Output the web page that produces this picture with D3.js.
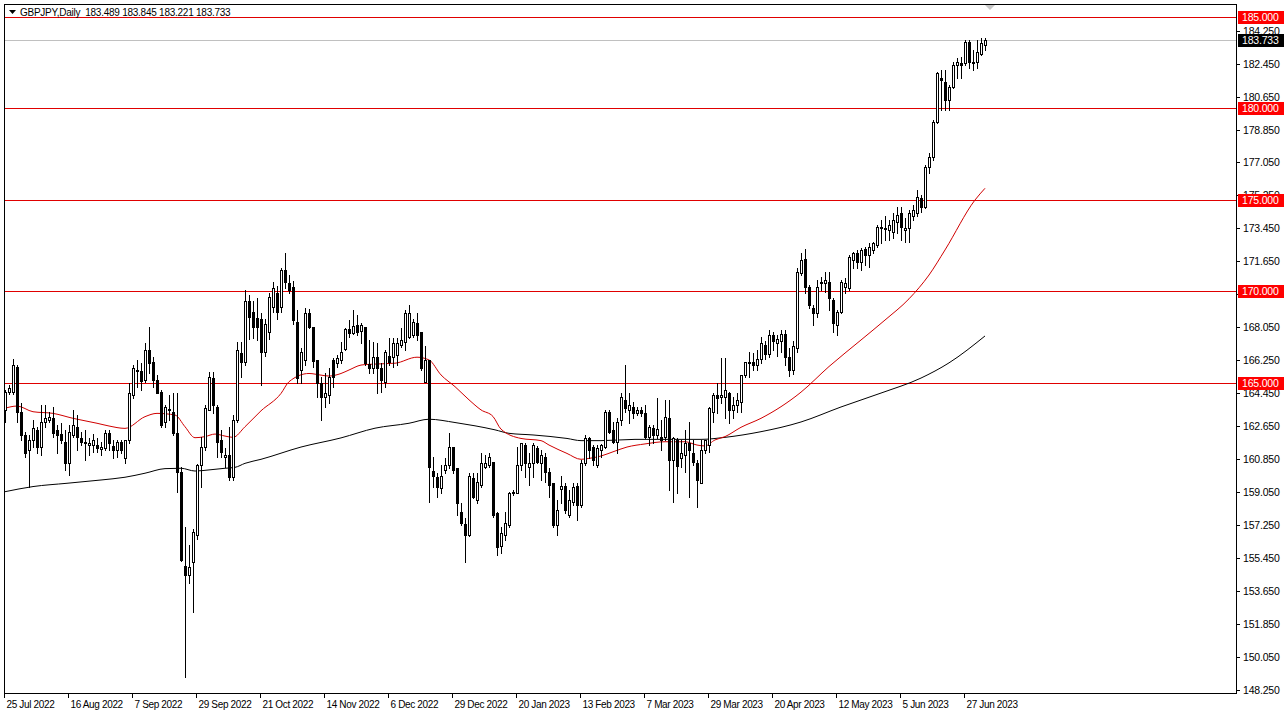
<!DOCTYPE html>
<html><head><meta charset="utf-8">
<script src="https://cdn.jsdelivr.net/npm/d3@7"></script>
<style>
html,body{margin:0;padding:0;background:#fff;}
svg{display:block;}
text{font-family:"Liberation Sans",Arial,sans-serif;}
</style></head><body>
<svg id="c" width="1287" height="717"></svg>
<script>
const symbol = "GBPJPY,Daily";
const lastOHLC = ["183.489","183.845","183.221","183.733"];
const lastPrice = 183.733;
const tickLabels = ["25 Jul 2022","16 Aug 2022","7 Sep 2022","29 Sep 2022","21 Oct 2022","14 Nov 2022","6 Dec 2022","29 Dec 2022","20 Jan 2023","13 Feb 2023","7 Mar 2023","29 Mar 2023","20 Apr 2023","12 May 2023","5 Jun 2023","27 Jun 2023"];
const tickBars = [0,16,32,48,64,80,96,112,128,144,160,176,192,208,224,240];
const priceTicks = [148.25,150.05,151.85,153.65,155.45,157.25,159.05,160.85,162.65,164.45,166.25,168.05,169.85,171.65,173.45,175.25,177.05,178.85,180.65,182.45,184.25];
const levels = [185,180,175,170,165];

const open = [
163.52,164.53,164.53,165.89,163.43,162.16,161.34,161.89,162.43,161.52,162.89,162.98,163.07,162.43,162.2,161.79,160.61,162.16,162.61,162.01,
161.79,161.61,161.61,161.61,161.38,161.43,162.29,161.56,161.34,161.79,160.88,161.89,164.34,165.65,165.66,165.16,166.8,166.17,165.16,164.53,
162.89,163.6,163.43,162.25,160.16,155.0,154.51,155.24,156.7,160.52,161.52,163.53,165.26,163.71,161.89,160.94,161.07,159.88,162.98,166.62,
166.17,169.5,168.9,168.53,168.47,166.7,167.8,169.17,169.9,169.17,171.17,170.44,170.26,168.35,165.71,166.25,168.8,168.04,166.25,164.98,
164.25,164.34,166.25,166.07,166.25,166.84,167.93,167.75,168.17,167.86,168.04,166.03,165.8,166.43,165.8,165.08,166.48,166.44,166.53,167.08,
167.26,167.54,167.63,168.27,167.81,165.08,166.26,160.21,159.88,159.25,160.25,160.52,161.5,160.34,157.97,157.3,156.7,159.8,158.61,159.43,
160.43,160.52,160.7,157.88,156.1,156.69,157.24,159.0,159.0,160.52,161.61,160.39,160.61,161.46,160.64,160.97,160.15,159.51,157.24,159.19,
159.37,157.78,158.51,159.37,158.33,160.61,161.97,161.52,160.52,161.34,161.52,163.43,162.43,161.79,162.97,164.07,163.52,163.7,163.38,163.52,
163.34,162.07,162.52,162.16,162.07,162.07,163.07,160.79,161.89,160.88,161.07,161.74,161.16,160.61,159.52,161.34,161.61,163.43,164.34,164.25,
164.25,164.44,163.52,163.8,163.98,165.44,166.07,166.17,166.0,166.3,167.1,166.6,167.6,167.2,167.3,167.7,166.4,165.7,166.9,171.0,
171.75,170.26,169.08,168.8,170.45,170.45,170.53,169.53,168.17,168.9,170.26,170.17,171.72,172.08,171.63,172.3,171.99,172.26,172.54,173.45,
173.4,173.36,173.27,173.82,174.27,173.36,173.45,174.13,174.27,175.1,174.64,176.82,177.37,179.28,181.65,181.47,180.47,181.2,182.38,182.5,
182.47,183.65,182.5,182.56,183.0,183.489];
const high = [
164.6,164.9,166.29,166.0,163.89,162.3,162.16,162.98,162.6,163.8,163.8,163.43,163.71,162.71,162.8,162.43,162.71,163.52,163.25,162.34,
162.43,161.98,162.2,161.98,161.79,162.43,162.43,161.89,161.89,161.89,161.89,164.98,165.98,166.26,166.08,167.17,168.08,166.44,165.44,164.6,
163.8,164.35,164.44,164.44,160.43,157.15,156.15,157.0,160.6,162.07,163.8,165.62,165.62,163.8,162.43,161.43,162.6,163.25,167.26,167.26,
170.1,169.8,169.5,169.62,168.8,168.5,169.9,170.5,170.3,171.3,172.08,170.9,170.6,169.0,166.9,169.08,169.02,168.04,166.25,165.34,
165.52,165.8,166.34,166.53,167.25,167.98,168.44,168.98,168.71,168.26,168.04,167.35,167.25,167.2,166.07,166.81,167.45,167.45,167.45,167.99,
169.0,169.27,168.5,168.81,167.81,167.0,166.26,160.98,160.07,160.52,160.89,162.25,161.5,160.34,158.43,157.61,160.07,160.07,160.07,161.16,
161.07,161.16,160.7,157.97,157.15,157.97,159.06,159.15,161.52,161.74,161.7,161.15,161.7,161.55,161.34,161.15,160.33,159.51,158.6,159.91,
159.51,159.15,159.51,159.51,160.79,162.16,162.06,161.61,161.61,161.65,163.52,163.52,162.88,163.07,164.43,165.98,164.43,163.98,163.71,163.71,
163.8,162.71,162.71,164.16,162.98,164.07,164.07,162.07,161.98,161.89,162.43,162.89,161.89,160.79,161.89,161.89,163.71,164.44,164.98,166.35,
166.35,164.53,164.25,164.44,165.44,166.17,166.71,166.62,166.8,167.5,167.3,167.9,167.8,167.6,167.9,167.9,166.9,167.3,171.3,172.08,
172.3,170.35,169.26,170.62,170.81,171.08,171.08,169.62,168.98,170.62,170.72,171.99,172.17,172.26,172.35,172.45,172.63,172.72,173.63,173.9,
174.1,173.9,174.27,174.64,174.64,174.0,174.45,174.73,175.55,175.27,176.91,177.55,179.37,182.01,182.1,182.1,181.28,182.56,182.74,182.83,
183.74,183.74,183.2,183.74,183.84,183.845];
const low = [
162.89,164.4,164.4,162.89,161.89,160.98,159.34,161.52,161.16,161.07,162.6,162.89,162.07,161.16,161.7,160.25,159.97,162.07,161.34,161.6,
160.79,161.07,161.25,161.25,161.07,161.34,161.34,160.88,160.98,161.16,160.61,161.7,164.16,164.8,164.62,165.07,165.53,164.8,164.44,162.6,
162.6,162.98,162.16,159.06,155.3,148.95,154.05,152.5,156.5,159.33,161.34,163.53,163.34,160.98,160.98,160.43,159.7,159.7,162.89,165.35,
166.0,167.4,167.44,167.35,164.9,166.5,167.4,168.9,168.5,168.9,170.2,169.9,168.2,164.98,164.98,165.98,167.98,165.89,164.25,162.97,
163.7,163.89,164.8,165.89,166.07,166.8,167.53,167.7,167.62,167.16,165.98,165.52,165.52,164.43,164.52,164.77,165.99,165.9,165.99,166.99,
166.81,167.45,167.5,167.35,165.72,165.08,158.52,159.34,158.79,158.97,160.07,160.34,160.07,157.79,157.25,155.24,156.64,158.7,158.43,159.34,
160.34,160.43,157.7,155.61,155.7,156.42,157.15,158.9,158.97,160.24,159.88,159.42,159.88,160.61,159.7,159.61,158.79,157.15,156.69,158.42,
157.87,157.69,158.33,157.51,158.24,160.52,160.88,160.52,160.42,160.97,161.43,162.28,161.7,161.15,162.7,163.43,162.79,163.07,163.25,163.2,
161.98,161.61,161.7,161.98,161.34,161.89,159.15,158.52,158.97,160.43,160.16,158.79,160.52,158.24,159.52,161.16,161.25,162.89,163.34,163.9,
163.07,162.8,163.07,163.43,163.43,165.35,165.35,165.71,165.7,166.1,166.3,166.4,166.8,166.5,166.7,166.0,165.4,165.5,166.7,170.9,
169.9,169.08,168.17,168.62,170.08,169.99,168.98,167.8,167.62,168.8,169.9,170.08,171.26,171.26,171.17,171.45,171.35,172.08,172.45,172.63,
172.8,172.8,172.9,173.18,172.8,172.7,172.72,173.9,174.1,174.37,174.55,176.46,177.19,179.19,179.92,179.92,179.92,181.1,181.65,181.65,
182.38,182.2,182.1,182.2,182.92,183.221];
const close = [
164.53,164.71,165.98,163.43,162.16,161.16,161.89,162.52,161.52,162.89,163.07,163.16,162.25,162.16,161.89,160.61,162.34,162.71,162.07,161.79,
161.7,161.74,161.89,161.43,161.48,162.29,161.70,161.34,161.79,161.34,161.89,164.44,165.80,165.7,165.13,166.80,166.08,165.16,164.44,162.71,
163.71,163.5,162.25,160.16,155.33,154.51,154.96,156.88,160.52,161.52,163.62,165.35,163.8,161.8,161.25,161.07,159.88,162.98,166.8,166.17,
169.5,168.6,168.04,168.04,166.71,168.2,169.71,170.17,168.9,171.17,170.53,170.08,168.44,165.25,166.71,168.8,168.04,166.22,164.98,164.25,
164.47,165.34,165.34,166.34,166.71,167.93,167.75,168.11,167.8,168.17,166.07,165.8,166.43,165.8,165.16,166.72,166.17,167.17,167.17,167.35,
168.81,168.81,168.36,167.63,165.81,166.26,160.43,159.92,159.34,159.92,160.52,161.5,160.25,158.43,157.34,156.7,159.92,158.79,159.61,160.62,
160.62,160.98,157.79,156.06,156.8,157.36,159.0,159.06,160.52,161.7,160.61,160.61,161.61,160.7,161.06,160.15,159.42,157.24,158.06,159.37,
158.06,158.6,159.33,158.33,160.64,161.97,161.34,160.79,161.43,161.61,163.43,162.34,161.79,162.88,164.25,163.61,163.79,163.34,163.52,163.38,
162.07,162.61,162.16,162.47,161.89,163.12,160.79,161.98,160.47,161.16,161.7,161.34,160.7,159.7,161.34,161.89,163.62,164.34,164.16,164.34,
164.62,163.52,163.8,164.07,165.44,166.17,166.17,165.98,166.3,167.2,166.6,167.6,167.3,167.4,167.7,166.4,165.7,167.0,171.08,171.72,
170.26,169.26,168.8,170.26,170.53,170.62,169.62,168.26,168.9,170.53,170.45,171.9,172.08,171.63,172.26,171.99,172.45,172.63,173.54,173.54,
173.45,173.63,173.9,174.18,173.54,173.45,174.27,174.45,175.18,174.64,176.82,177.37,179.28,181.92,181.56,180.47,181.16,182.38,182.56,182.38,
183.65,182.56,182.56,183.1,183.56,183.733];

const ma50Bars = [0,3,7,12,17,23,26,30,35,38,42.5,45,47.5,50,52.5,55,57,60,64,69,71,76,79,81,84,86,89,91,97.5,103,106,109,112.5,116,119,122,124,129,134,136,140.5,144,146,149,152,155.5,160,165,170,173,175,177.5,180,184,189,199,206,214,220,226,231,235,242.5,245];
const ma50Vals = [163.62,163.74,163.43,163.34,163.07,162.8,162.65,162.52,163.16,163.34,163.25,162.61,162.01,162.07,162.21,162.1,162.03,162.61,163.48,164.43,165.07,165.52,165.43,165.38,165.52,165.71,165.98,166.02,166.08,166.41,166.26,165.44,164.8,164.08,163.53,163.17,162.48,161.97,161.85,161.61,161.15,160.83,160.88,161.01,161.24,161.5,161.67,161.79,161.79,161.61,161.56,161.89,162.07,162.58,163.07,164.5,165.9,167.35,168.44,169.6,170.9,172.27,175.0,175.64];
const ma200Bars = [0,7,15.5,24,30,35,40,44,47.5,51,55,57.5,60,64,74,84,92.5,101,106,112.5,117.5,122.5,126,132,140.5,144,149,157.5,174,180,189,199,209,219,229,236,245];
const ma200Vals = [159.06,159.34,159.52,159.7,159.85,160.07,160.32,160.34,160.19,160.25,160.34,160.39,160.61,160.83,161.5,162.0,162.53,162.8,163.02,162.84,162.66,162.44,162.25,162.16,161.97,161.85,161.85,161.92,161.92,162.03,162.34,162.87,163.69,164.45,165.27,166.1,167.57];

const W = 1287, H = 717;
const L = 4, R = 1236, T = 4, B = 693;
const svg = d3.select("#c");
svg.append("rect").attr("width", W).attr("height", H).attr("fill", "#fff");

const n = open.length;
const x = d3.scaleLinear().domain([0, n - 1]).range([5, 5 + 4 * (n - 1)]);
const y = d3.scaleLinear().domain([148.06, 185.71]).range([B, T]);
const cy = v => Math.round(y(v)) + 0.5;
const cx = i => Math.round(x(i)) + 0.5;

svg.append("clipPath").attr("id", "clp").append("rect").attr("x", L).attr("y", T).attr("width", R - L).attr("height", B - T);
const plot = svg.append("g").attr("clip-path", "url(#clp)");

plot.selectAll("line.lv").data(levels).enter().append("line")
  .attr("x1", L).attr("x2", R).attr("y1", d => cy(d)).attr("y2", d => cy(d))
  .attr("stroke", "#e00000").attr("stroke-width", 1);

plot.append("line").attr("x1", L).attr("x2", R).attr("y1", cy(lastPrice)).attr("y2", cy(lastPrice))
  .attr("stroke", "#c0c0c0").attr("stroke-width", 1);

const ma50 = ma50Bars.map((b, i) => [b, ma50Vals[i]]);
const ma200 = ma200Bars.map((b, i) => [b, ma200Vals[i]]);
const line = d3.line().x(d => x(d[0])).y(d => y(d[1])).curve(d3.curveMonotoneX);
plot.append("path").attr("d", line(ma200)).attr("fill", "none").attr("stroke", "#000").attr("stroke-width", 1);
plot.append("path").attr("d", line(ma50)).attr("fill", "none").attr("stroke", "#d00000").attr("stroke-width", 1);

const idx = d3.range(n);
const cg = plot.append("g");
cg.selectAll("line.w").data(idx).enter().append("line")
  .attr("x1", cx).attr("x2", cx)
  .attr("y1", i => Math.round(y(high[i]))).attr("y2", i => Math.round(y(low[i])) + 1)
  .attr("stroke", "#000").attr("stroke-width", 1);
cg.selectAll("rect.b").data(idx).enter().append("rect")
  .attr("x", i => cx(i) - 1)
  .attr("y", i => Math.round(y(Math.max(open[i], close[i]))) + 0.5)
  .attr("width", 2)
  .attr("height", i => Math.max(0, Math.round(y(Math.min(open[i], close[i]))) - Math.round(y(Math.max(open[i], close[i])))))
  .attr("fill", i => close[i] >= open[i] ? "#fff" : "#000")
  .attr("stroke", "#000").attr("stroke-width", 1);

svg.append("rect").attr("x", L + 0.5).attr("y", T + 0.5).attr("width", R - L).attr("height", B - T)
  .attr("fill", "none").attr("stroke", "#000").attr("stroke-width", 1);

svg.append("path").attr("d", "M985,5 L995,5 L990,10 Z").attr("fill", "#c8c8c8");

const pa = svg.append("g");
priceTicks.forEach(v => {
  pa.append("line").attr("x1", R).attr("x2", R + 4).attr("y1", cy(v)).attr("y2", cy(v)).attr("stroke", "#000");
  pa.append("text").attr("x", R + 7).attr("y", Math.round(y(v)) + 4).attr("font-size", "10.5px")
    .attr("letter-spacing", "-0.2px").attr("fill", "#000").text(v.toFixed(3));
});
levels.forEach(v => {
  pa.append("rect").attr("x", R + 2).attr("y", Math.round(y(v)) - 6).attr("width", 46).attr("height", 13).attr("fill", "#ff0000");
  pa.append("text").attr("x", R + 6).attr("y", Math.round(y(v)) + 4).attr("font-size", "10.5px")
    .attr("letter-spacing", "-0.2px").attr("fill", "#fff").text(v.toFixed(3));
});
pa.append("rect").attr("x", R + 2).attr("y", Math.round(y(lastPrice)) - 6).attr("width", 46).attr("height", 13).attr("fill", "#000");
pa.append("text").attr("x", R + 6).attr("y", Math.round(y(lastPrice)) + 4).attr("font-size", "10.5px")
  .attr("letter-spacing", "-0.2px").attr("fill", "#fff").text(lastPrice.toFixed(3));

const ta = svg.append("g");
tickBars.forEach((b, k) => {
  const tx = Math.round(x(b)) - 0.5;
  ta.append("line").attr("x1", tx).attr("x2", tx).attr("y1", B).attr("y2", B + 5).attr("stroke", "#000");
  ta.append("text").attr("x", tx + 2).attr("y", B + 15).attr("font-size", "10px")
    .attr("letter-spacing", "-0.35px").attr("fill", "#000").text(tickLabels[k]);
});

svg.append("path").attr("d", "M9,10 L16,10 L12.5,14 Z").attr("fill", "#000");
svg.append("text").attr("x", 20).attr("y", 16).attr("font-size", "10px").attr("letter-spacing", "-0.25px").attr("fill", "#000")
  .attr("xml:space", "preserve").text(symbol + "  " + lastOHLC.join(" "));
</script>
</body></html>
